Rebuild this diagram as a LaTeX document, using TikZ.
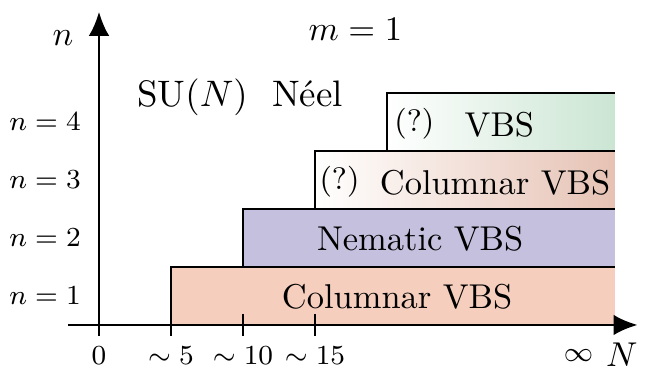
\documentclass[tikz,border=0pt]{standalone}
\usepackage{amsmath,amssymb}
\usepackage{tikz}
\usetikzlibrary{arrows.meta,positioning,calc}
\definecolor{cSalmon}{RGB}{246,206,190}
\definecolor{cLav}{RGB}{196,192,222}
\definecolor{cRose}{RGB}{230,194,180}
\definecolor{cMint}{RGB}{203,229,211}
\tikzset{
  axarr/.style={-{Latex[length=7pt,width=6pt]},line width=0.8pt},
  edge/.style={line width=0.8pt},
  rowlbl/.style={font=\footnotesize,inner sep=1pt},
  ticklbl/.style={font=\footnotesize,inner sep=1pt},
  phaselbl/.style={font=\normalsize,inner sep=1pt},
  qlbl/.style={font=\small,inner sep=1pt}
}

\begin{document}
\begin{tikzpicture}[x=0.1469cm,y=0.5916cm]
  \useasboundingbox (-6.875,-0.845) rectangle (38.19,5.603);

  \coordinate (o) at (0,0);
  \coordinate (xs) at (-2.15,0);
  \coordinate (xe) at (37.4,0);
  \coordinate (ys) at (0,-0.19);
  \coordinate (ye) at (0,5.4);

  % phase regions
  \fill[cSalmon] (5,0) rectangle (35.8,1);
  \fill[cLav] (10,1) rectangle (35.8,2);
  \shade[left color=white,right color=cRose] (15,2) rectangle (35.8,3);
  \shade[left color=white,right color=cMint] (20,3) rectangle (35.8,4);

  \draw[edge] (5,-0.19) -- (5,1) -- (35.8,1);
  \draw[edge] (10,1) -- (10,2) -- (35.8,2);
  \draw[edge] (15,2) -- (15,3) -- (35.8,3);
  \draw[edge] (20,3) -- (20,4) -- (35.8,4);
  \draw[edge] (10,-0.19) -- (10,0.19);
  \draw[edge] (15,-0.19) -- (15,0.19);

  % axes
  \draw[axarr] (xs) -- (xe);
  \draw[axarr] (ys) -- (ye);

  \node[phaselbl] (col1) at (20.7,0.48) {Columnar VBS};
  \node[phaselbl] (nem) at (22.3,1.48) {Nematic VBS};
  \node[qlbl] (q3) at (16.7,2.47) {(?)};
  \node[phaselbl] (col3) at (27.5,2.45) {Columnar VBS};
  \node[qlbl] (q4) at (21.9,3.47) {(?)};
  \node[phaselbl] (vbs) at (27.8,3.45) {VBS};

  \node[phaselbl,scale=1.07] (neel) at (9.8,3.93) {SU$(N)$\ \ N\'eel};
  \node[phaselbl] (mlbl) at (17.8,5.09) {$m=1$};
  \node[phaselbl] (nlbl) at (-2.5,4.95) {$n$};
  \node[phaselbl] (Nlbl) at (36.3,-0.52) {$N$};

  \foreach \k in {1,...,4}
    \node[rowlbl] (row\k) at (-3.75,\k-0.5) {$n=\k$};

  \node[ticklbl] (t0) at (0,-0.52) {$0$};
  \node[ticklbl] (t5) at (5,-0.52) {$\sim5$};
  \node[ticklbl] (t10) at (10,-0.52) {$\sim10$};
  \node[ticklbl] (t15) at (15,-0.52) {$\sim15$};
  \node[ticklbl] (tinf) at (33.3,-0.52) {$\infty$};

\end{tikzpicture}
\end{document}
